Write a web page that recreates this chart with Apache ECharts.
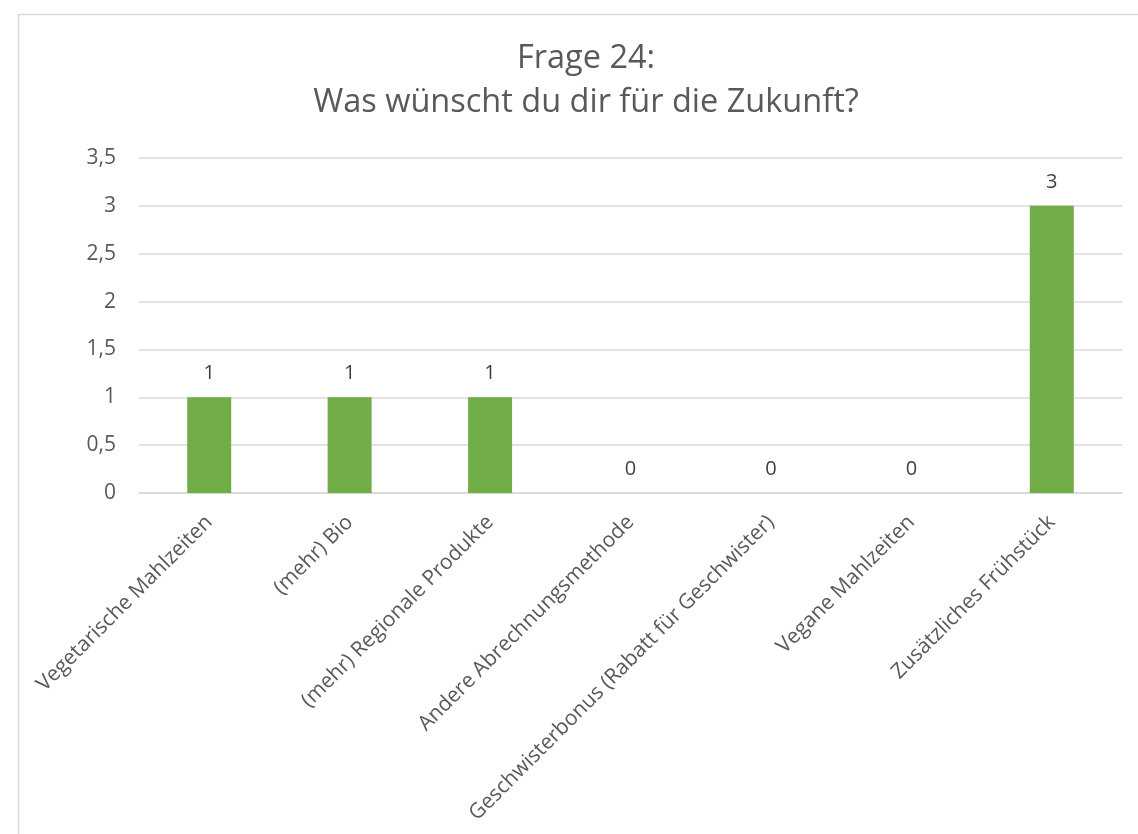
<!DOCTYPE html>
<html><head><meta charset="utf-8">
<script src="https://cdn.jsdelivr.net/npm/echarts@6/dist/echarts.min.js"></script>
<style>html,body{margin:0;padding:0;background:#fff}#c{width:1138px;height:834px}</style>
</head><body><div id="c"></div>
<script>
const titleLines = ['Frage 24:', 'Was wünscht du dir für die Zukunft?'];
const categories = ['Vegetarische Mahlzeiten', '(mehr) Bio', '(mehr) Regionale Produkte', 'Andere Abrechnungsmethode', 'Geschwisterbonus (Rabatt für Geschwister)', 'Vegane Mahlzeiten', 'Zusätzliches Frühstück'];
const values = [1, 1, 1, 0, 0, 0, 3];
const yMin = 0, yMax = 3.5, yStep = 0.5;

const chart = echarts.init(document.getElementById('c'), null, {renderer: 'canvas'});
const font = '"Open Sans", "DejaVu Sans", sans-serif';
chart.setOption({
  animation: false,
  backgroundColor: '#fff',
  graphic: [{
    type: 'rect', shape: {x: 18.5, y: 14.5, width: 1200, height: 900},
    style: {fill: 'none', stroke: '#d9d9d9', lineWidth: 1.5}, silent: true
  }, {
    type: 'text', x: 586, y: 37, silent: true,
    style: {text: titleLines.join('\n'), textAlign: 'center', textVerticalAlign: 'top',
      fontFamily: font, fontSize: 32.5, fontWeight: 'normal', fill: '#595959', lineHeight: 44}
  }],
  grid: {left: 139, right: 16, top: 158, bottom: 341, containLabel: false},
  xAxis: {
    type: 'category', data: categories,
    axisLine: {lineStyle: {color: '#d9d9d9', width: 1.5}},
    axisTick: {show: false},
    axisLabel: {rotate: 45, interval: 0, margin: 26, fontFamily: font, fontSize: 21, color: '#595959'}
  },
  yAxis: {
    type: 'value', min: yMin, max: yMax, interval: yStep,
    axisLine: {show: false}, axisTick: {show: false},
    splitLine: {lineStyle: {color: '#d9d9d9', width: 1.5}},
    axisLabel: {margin: 23, fontFamily: font, fontSize: 21, color: '#595959',
      formatter: v => String(v).replace('.', ',')}
  },
  series: [{
    type: 'bar', data: values, barWidth: 44,
    itemStyle: {color: '#70ad47'},
    label: {show: true, position: 'top', distance: 14, fontFamily: font, fontSize: 20, color: '#404040'}
  }]
});
</script></body></html>
